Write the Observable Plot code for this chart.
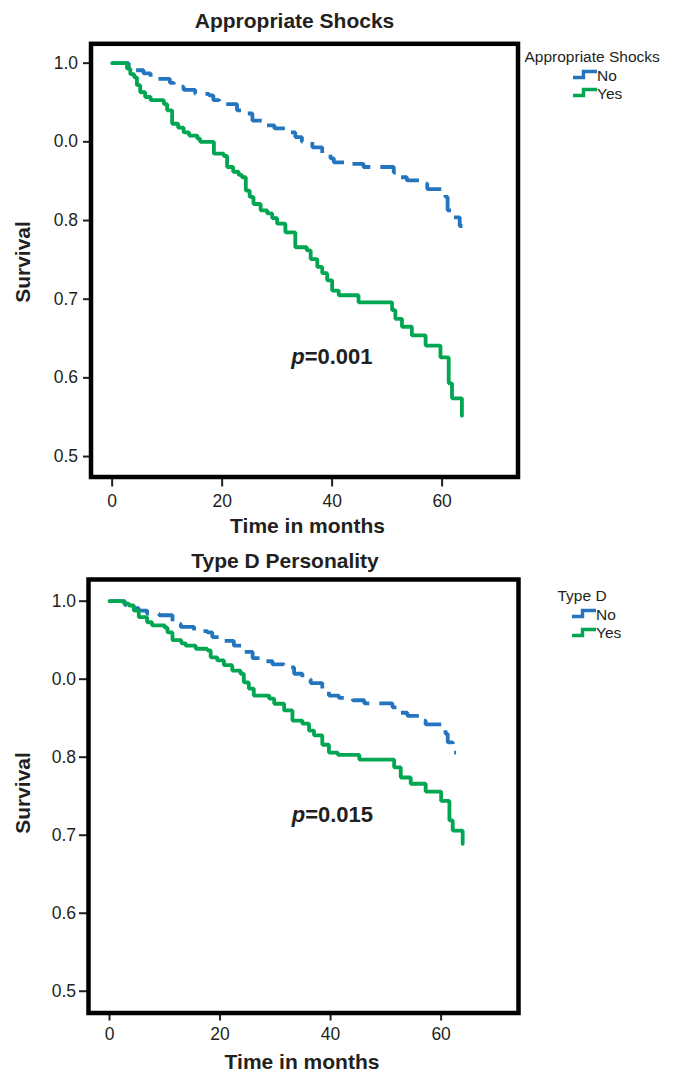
<!DOCTYPE html>
<html>
<head>
<meta charset="utf-8">
<script src="https://cdn.jsdelivr.net/npm/d3@7"></script>
<script src="https://cdn.jsdelivr.net/npm/@observablehq/plot@0.6"></script>
<style>
  body { margin: 0; background: #fff; font-family: "Liberation Sans", Arial, Helvetica, sans-serif; }
  #wrap { position: relative; width: 675px; height: 1073px; overflow: hidden; background: #fff; }
  .abs { position: absolute; white-space: nowrap; color: #231f20; line-height: 1; transform: translate(-50%, -50%); }
  .bold { font-weight: bold; font-size: 21px; }
  .leg { position: absolute; white-space: nowrap; color: #231f20; line-height: 1; font-size: 15.5px; transform: translateY(-50%); }
  .panel { position: absolute; left: 0; }
</style>
</head>
<body>
<div id="wrap"></div>
<script>
// ---------- data ----------
const xTickValues = [0, 20, 40, 60];
const yTickValues = [1.0, 0.9, 0.8, 0.7, 0.6, 0.5];
const yTickLabels = ["1.0", "0.0", "0.8", "0.7", "0.6", "0.5"];

const groups = ["No", "Yes"];

// Panel 1: Appropriate Shocks
const shockNoTime = [0, 3.0, 4.0, 5.7, 7.0, 10.5, 11.2, 13.0, 15.1, 17.6, 18.4, 19.5, 20.3, 22.7, 23.5, 25.5, 27.9, 29.5, 31.5, 33.3, 34.5, 36.4, 38.2, 39.7, 40.3, 43.6, 45.7, 51.2, 52.4, 53.6, 56.0, 57.3, 60.6, 61.0, 61.8, 63.2, 63.7];
const shockNoSurv = [1.0, 0.995, 0.991, 0.987, 0.980, 0.975, 0.970, 0.966, 0.961, 0.959, 0.953, 0.950, 0.948, 0.940, 0.936, 0.927, 0.921, 0.917, 0.912, 0.906, 0.900, 0.893, 0.885, 0.879, 0.874, 0.872, 0.868, 0.861, 0.855, 0.851, 0.847, 0.840, 0.830, 0.813, 0.804, 0.793, 0.793];
const shockYesTime = [0, 2.7, 3.3, 4.0, 4.5, 5.1, 6.0, 7.0, 9.4, 10.0, 10.9, 12.0, 13.0, 14.0, 15.5, 16.0, 18.5, 20.3, 20.9, 22.0, 23.0, 23.6, 24.3, 25.0, 25.7, 27.0, 28.2, 29.1, 30.0, 31.5, 33.3, 35.4, 36.1, 37.3, 38.2, 39.1, 40.0, 41.2, 44.8, 50.9, 51.5, 52.7, 54.5, 57.0, 59.7, 61.2, 61.8, 63.6];
const shockYesSurv = [1.0, 0.993, 0.986, 0.982, 0.972, 0.963, 0.957, 0.953, 0.948, 0.940, 0.923, 0.918, 0.912, 0.908, 0.904, 0.900, 0.885, 0.882, 0.868, 0.862, 0.858, 0.855, 0.838, 0.830, 0.821, 0.813, 0.809, 0.803, 0.796, 0.785, 0.766, 0.762, 0.751, 0.741, 0.733, 0.724, 0.711, 0.705, 0.696, 0.686, 0.675, 0.665, 0.654, 0.641, 0.626, 0.593, 0.574, 0.552];

// Panel 2: Type D Personality
const typeDNoTime = [0, 2.8, 4.0, 5.3, 6.8, 9.0, 11.4, 12.9, 15.3, 17.7, 18.6, 20.7, 22.5, 24.3, 25.9, 28.3, 29.5, 31.6, 33.4, 34.9, 36.4, 38.5, 39.7, 41.5, 44.0, 46.1, 51.2, 52.4, 53.9, 56.3, 57.2, 60.8, 61.2, 62.1, 62.7];
const typeDNoSurv = [1.0, 0.995, 0.991, 0.988, 0.984, 0.982, 0.971, 0.967, 0.9615, 0.960, 0.954, 0.949, 0.943, 0.935, 0.927, 0.923, 0.919, 0.915, 0.907, 0.900, 0.895, 0.888, 0.879, 0.876, 0.873, 0.869, 0.864, 0.857, 0.853, 0.847, 0.842, 0.830, 0.819, 0.806, 0.806];
const typeDYesTime = [0, 2.6, 3.5, 4.4, 5.3, 6.8, 7.7, 10.0, 10.5, 11.4, 13.0, 13.8, 15.6, 17.7, 18.3, 19.5, 20.7, 22.2, 23.7, 24.3, 25.2, 26.1, 28.9, 29.8, 31.6, 33.1, 34.9, 36.1, 37.0, 38.5, 39.7, 41.3, 45.2, 51.5, 52.7, 54.5, 57.2, 60.0, 61.5, 62.1, 63.9];
const typeDYesSurv = [1.0, 0.997, 0.9945, 0.988, 0.9795, 0.973, 0.969, 0.966, 0.960, 0.950, 0.946, 0.943, 0.939, 0.937, 0.928, 0.924, 0.918, 0.911, 0.907, 0.896, 0.888, 0.879, 0.875, 0.8685, 0.860, 0.847, 0.843, 0.834, 0.828, 0.816, 0.806, 0.803, 0.797, 0.787, 0.774, 0.766, 0.756, 0.744, 0.719, 0.706, 0.689];

const pValues = ["=0.001", "=0.015"];

// ---------- helpers ----------
const BLUE = "#2474bf";
const GREEN = "#00a651";
const INK = "#231f20";

function series(times, survs) {
  return times.map((t, i) => ({t, s: survs[i]}));
}

function makePanel(cfg) {
  const noData = series(cfg.noTime, cfg.noSurv);
  const yesData = series(cfg.yesTime, cfg.yesSurv);
  return Plot.plot({
    width: 675,
    height: cfg.height,
    marginLeft: cfg.mL,
    marginRight: cfg.mR,
    marginTop: cfg.mT,
    marginBottom: cfg.mB,
    x: {domain: cfg.xDomain, label: null},
    y: {domain: cfg.yDomain, label: null},
    style: {fontFamily: '"Liberation Sans", Arial, Helvetica, sans-serif', fontSize: "17.5px", color: INK, background: "transparent", overflow: "visible"},
    marks: [
      Plot.axisX({ticks: xTickValues, tickSize: cfg.xTickSize, tickPadding: cfg.xTickPad, strokeWidth: 2, fontSize: 17.5, label: null, tickFormat: d => String(d)}),
      Plot.axisY({ticks: yTickValues, tickSize: cfg.yTickSize, tickPadding: cfg.yTickPad, strokeWidth: 2, fontSize: 17.5, label: null,
        tickFormat: d => yTickLabels[yTickValues.indexOf(d)]}),
      Plot.line(noData, {x: "t", y: "s", curve: "step-after", stroke: BLUE, strokeWidth: 3.8, strokeDasharray: "21,10", strokeLinecap: "butt", strokeLinejoin: "miter"}),
      Plot.line(yesData, {x: "t", y: "s", curve: "step-after", stroke: GREEN, strokeWidth: 3.8, strokeLinejoin: "miter"}),
      Plot.text([cfg.pPos], {x: d => d[0], y: d => d[1], text: () => "p", fontStyle: "italic", fontWeight: "bold", fontSize: 22, textAnchor: "end", fill: INK}),
      Plot.text([cfg.pPos], {x: d => d[0], y: d => d[1], text: () => cfg.pText, fontWeight: "bold", fontSize: 22, textAnchor: "start", fill: INK}),
      Plot.frame({stroke: "#000", strokeWidth: 4.5})
    ]
  });
}

const wrap = document.getElementById("wrap");

function place(el, top) {
  el.classList.add("panel");
  el.style.top = top + "px";
  wrap.appendChild(el);
}

const p1 = makePanel({
  height: 540, mL: 90.5, mR: 157.5, mT: 43.3, mB: 63.5,
  xDomain: [-3.85, 73.8], yDomain: [0.474, 1.0246],
  xTickSize: 10, xTickPad: 8, yTickSize: 7.5, yTickPad: 5.5,
  noTime: shockNoTime, noSurv: shockNoSurv, yesTime: shockYesTime, yesSurv: shockYesSurv,
  pPos: [35.0, 0.626], pText: pValues[0]
});
place(p1, 0);

const p2 = makePanel({
  height: 533, mL: 88, mR: 157, mT: 39, mB: 60.5,
  xDomain: [-3.8, 74.0], yDomain: [0.4721, 1.0278],
  xTickSize: 8, xTickPad: 7, yTickSize: 9, yTickPad: 3.5,
  noTime: typeDNoTime, noSurv: typeDNoSurv, yesTime: typeDYesTime, yesSurv: typeDYesSurv,
  pPos: [35.4, 0.7255], pText: pValues[1]
});
place(p2, 540);

// ---------- text: titles, axis labels ----------
function addText(txt, x, y, cls, extra) {
  const d = document.createElement("div");
  d.className = "abs " + cls;
  d.textContent = txt;
  d.style.left = x + "px";
  d.style.top = y + "px";
  if (extra) d.style.transform = extra;
  wrap.appendChild(d);
}
addText("Appropriate Shocks", 294.5, 20, "bold");
addText("Time in months", 307.5, 524.5, "bold");
addText("Survival", 22, 262, "bold", "translate(-50%,-50%) rotate(-90deg)");
addText("Type D Personality", 285, 560, "bold");
addText("Time in months", 302, 1061, "bold");
addText("Survival", 22, 793, "bold", "translate(-50%,-50%) rotate(-90deg)");

// ---------- legends ----------
function addLegend(title, titleX, titleY, iconX, rowYs) {
  const t = document.createElement("div");
  t.className = "leg";
  t.textContent = title;
  t.style.left = titleX + "px";
  t.style.top = titleY + "px";
  wrap.appendChild(t);
  const colors = [BLUE, GREEN];
  groups.forEach((g, i) => {
    const y = rowYs[i];
    const svg = document.createElementNS("http://www.w3.org/2000/svg", "svg");
    svg.setAttribute("width", 26);
    svg.setAttribute("height", 14);
    svg.style.position = "absolute";
    svg.style.left = iconX + "px";
    svg.style.top = (y - 7) + "px";
    const pl = document.createElementNS("http://www.w3.org/2000/svg", "polyline");
    pl.setAttribute("points", "0,9.5 10.5,9.5 10.5,3.5 24,3.5");
    pl.setAttribute("fill", "none");
    pl.setAttribute("stroke", colors[i]);
    pl.setAttribute("stroke-width", "3.4");
    svg.appendChild(pl);
    wrap.appendChild(svg);
    const lab = document.createElement("div");
    lab.className = "leg";
    lab.textContent = g;
    lab.style.left = (iconX + 24) + "px";
    lab.style.top = (y + 0.5) + "px";
    wrap.appendChild(lab);
  });
}
addLegend("Appropriate Shocks", 524.5, 57, 573, [75, 93]);
addLegend("Type D", 557.5, 596, 572, [614, 632.5]);
</script>
</body>
</html>
